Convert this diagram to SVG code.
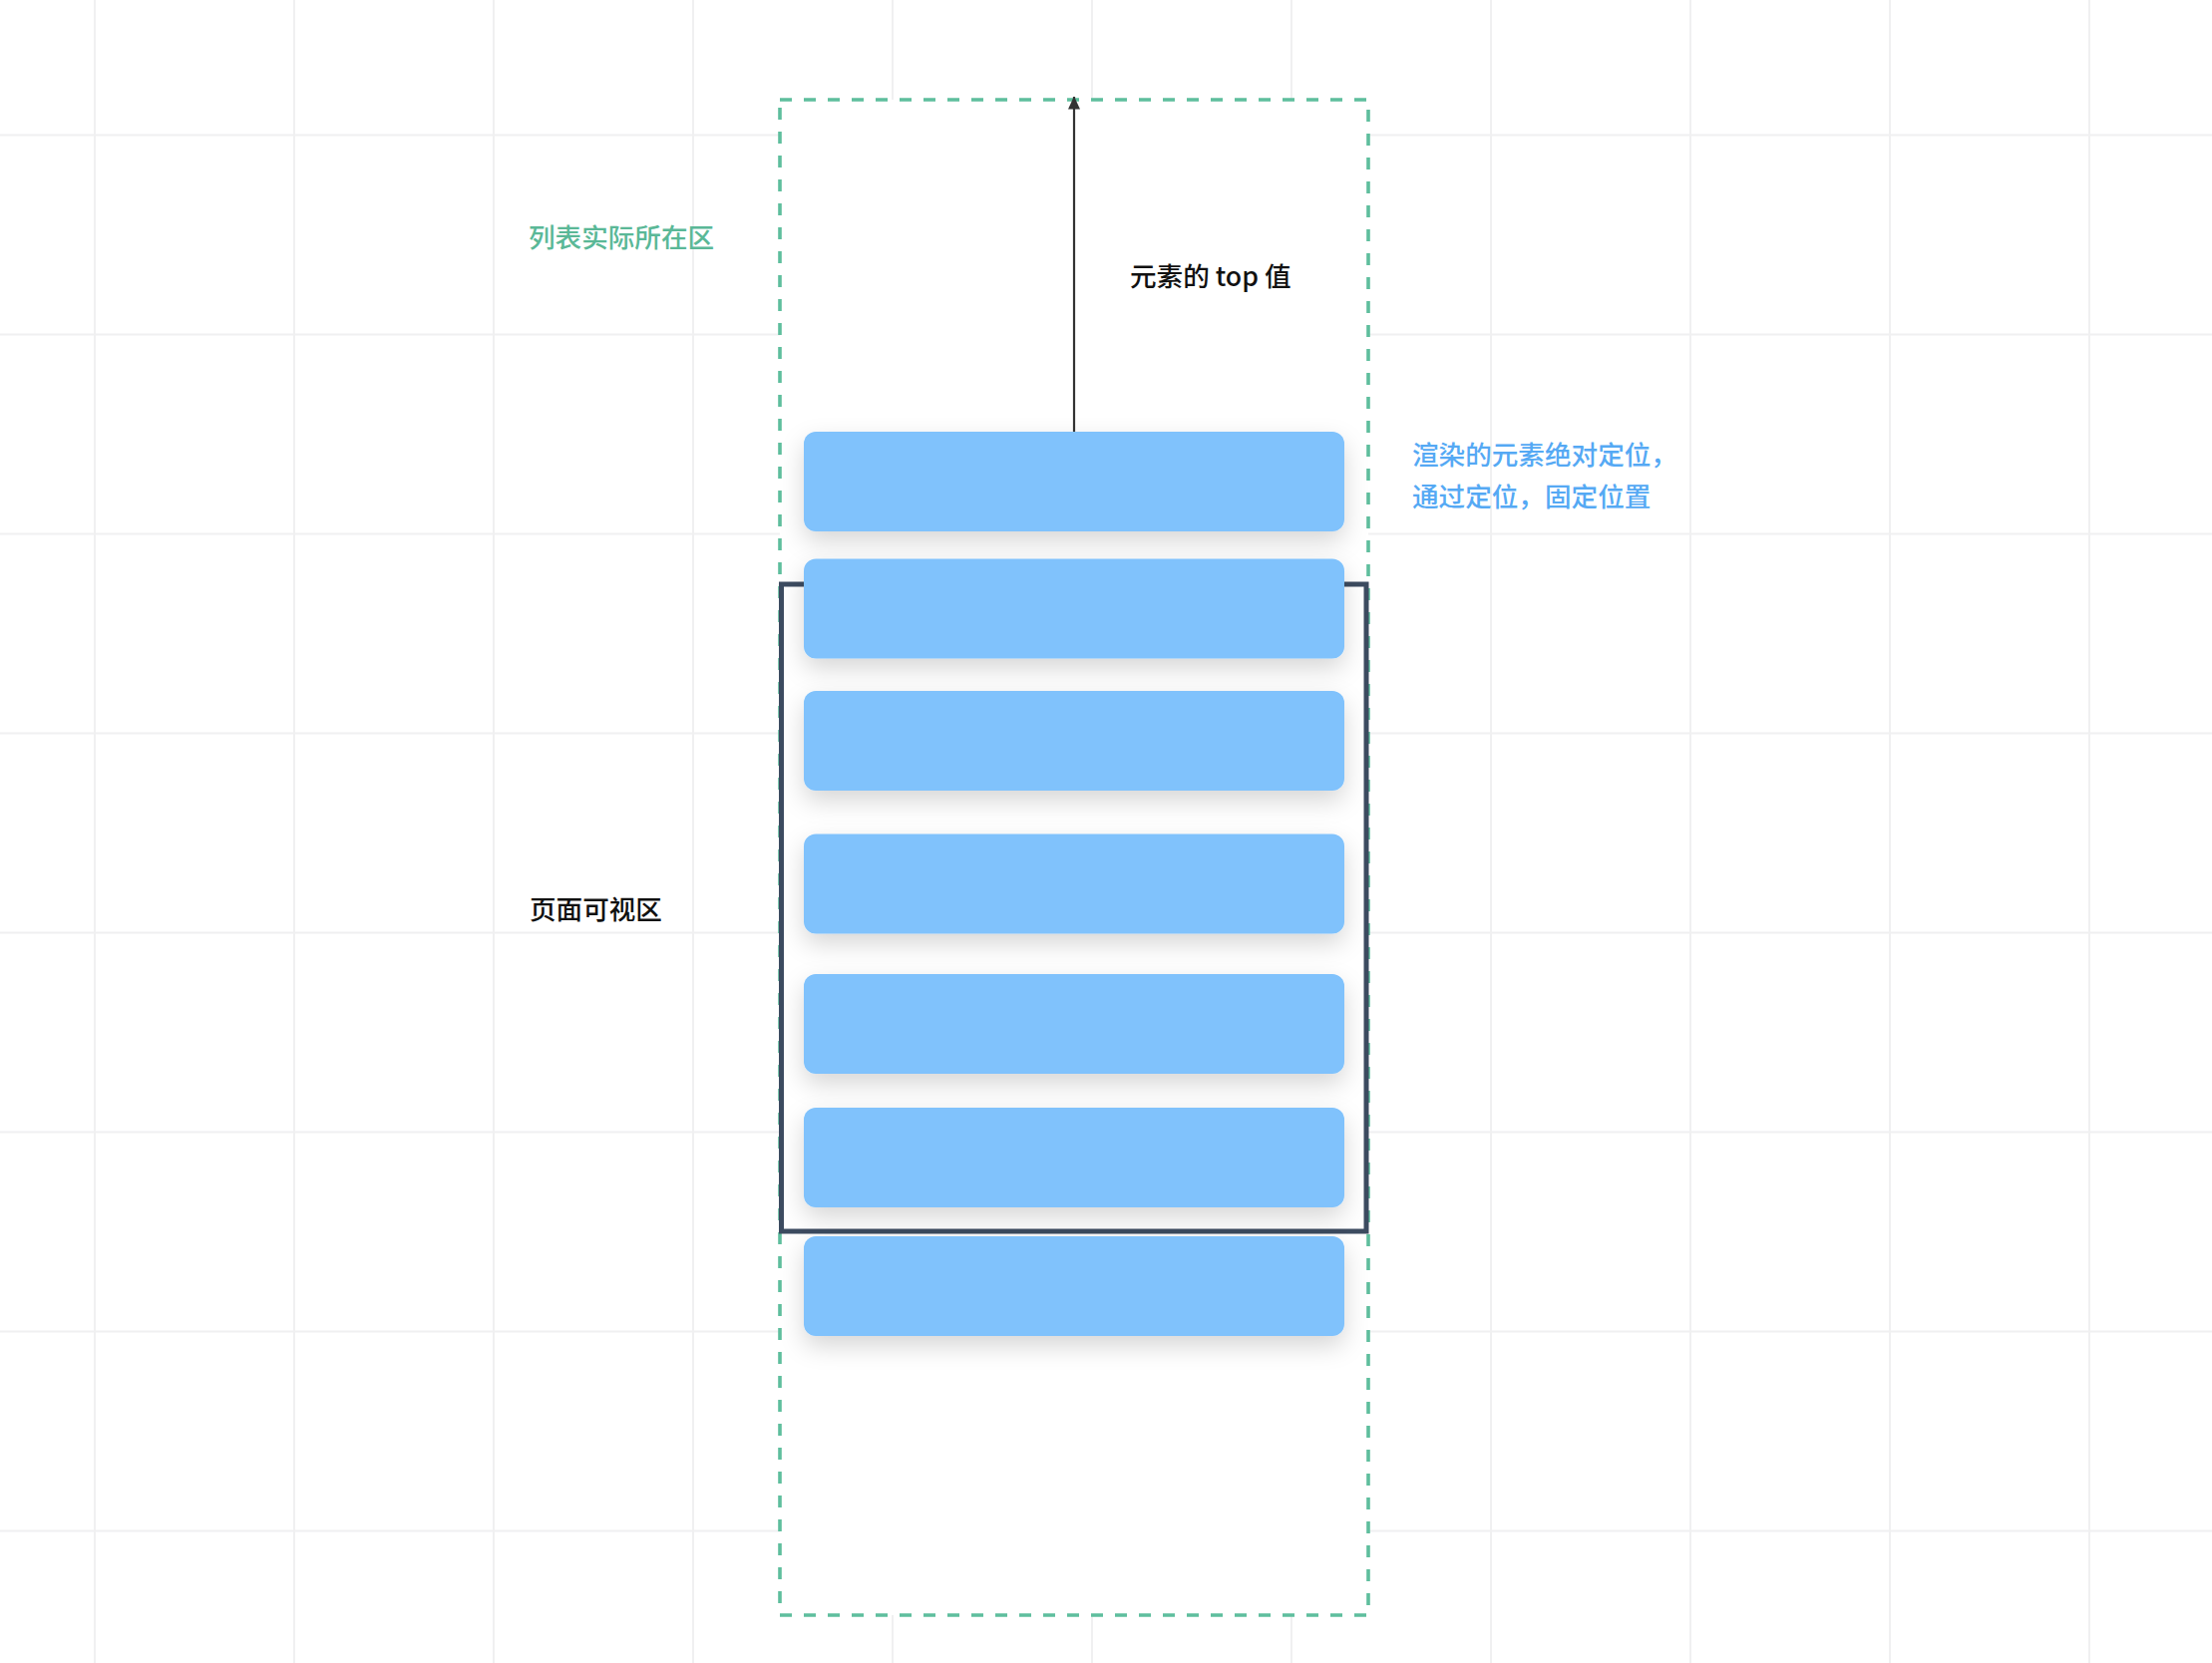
<svg xmlns="http://www.w3.org/2000/svg" width="2218" height="1668" viewBox="0 0 2218 1668">
<style>
.grid line{stroke:#f0f0f1;stroke-width:2}
.item{fill:#80c2fc;filter:url(#shadow)}
.t{font-family:"Noto Sans CJK SC","Liberation Sans",sans-serif;font-size:26.6px;font-weight:500}
</style>
<defs>
<filter id="shadow" x="-10%" y="-40%" width="120%" height="200%">
<feDropShadow dx="0" dy="10" stdDeviation="12" flood-color="#000" flood-opacity="0.16"/>
</filter>
<marker id="arr" markerWidth="13" markerHeight="12" refX="12.5" refY="6" orient="auto" markerUnits="userSpaceOnUse" viewBox="0 0 13 12">
<path d="M0,0 L13,6 L0,12 Z" fill="#333"/>
</marker>
</defs>
<rect width="2218" height="1668" fill="#ffffff"/>
<g class="grid">
<line x1="95" y1="0" x2="95" y2="1668"/>
<line x1="295" y1="0" x2="295" y2="1668"/>
<line x1="495" y1="0" x2="495" y2="1668"/>
<line x1="695" y1="0" x2="695" y2="1668"/>
<line x1="895" y1="0" x2="895" y2="1668"/>
<line x1="1095" y1="0" x2="1095" y2="1668"/>
<line x1="1295" y1="0" x2="1295" y2="1668"/>
<line x1="1495" y1="0" x2="1495" y2="1668"/>
<line x1="1695" y1="0" x2="1695" y2="1668"/>
<line x1="1895" y1="0" x2="1895" y2="1668"/>
<line x1="2095" y1="0" x2="2095" y2="1668"/>
<line x1="0" y1="135.5" x2="2218" y2="135.5"/>
<line x1="0" y1="335.5" x2="2218" y2="335.5"/>
<line x1="0" y1="535.5" x2="2218" y2="535.5"/>
<line x1="0" y1="735.5" x2="2218" y2="735.5"/>
<line x1="0" y1="935.5" x2="2218" y2="935.5"/>
<line x1="0" y1="1135.5" x2="2218" y2="1135.5"/>
<line x1="0" y1="1335.5" x2="2218" y2="1335.5"/>
<line x1="0" y1="1535.5" x2="2218" y2="1535.5"/>
</g>
<g id="list-area">
<rect x="782" y="100" width="590" height="1520" fill="#ffffff" stroke="#5ebe9d" stroke-width="3.6" stroke-dasharray="12 12"/>
<text class="t" x="530" y="247.5" fill="#5ab897">列表实际所在区</text>
</g>
<g id="viewport">
<rect x="783.5" y="586" width="586.5" height="649" fill="none" stroke="#3c4b60" stroke-width="5"/>
<text class="t" x="531" y="921.5" fill="#111">页面可视区</text>
</g>
<g id="item1"><rect class="item" x="806" y="433" width="542" height="100" rx="12"/></g>
<g id="item2"><rect class="item" x="806" y="560.5" width="542" height="100" rx="12"/></g>
<g id="item3"><rect class="item" x="806" y="693" width="542" height="100" rx="12"/></g>
<g id="item4"><rect class="item" x="806" y="836.5" width="542" height="100" rx="12"/></g>
<g id="item5"><rect class="item" x="806" y="977" width="542" height="100" rx="12"/></g>
<g id="item6"><rect class="item" x="806" y="1111" width="542" height="100" rx="12"/></g>
<g id="item7"><rect class="item" x="806" y="1240" width="542" height="100" rx="12"/></g>
<g id="connectors">
<line x1="1077" y1="433" x2="1077" y2="97" stroke="#333" stroke-width="2.2" marker-end="url(#arr)"/>
</g>
<g id="top-label">
<text class="t" x="1133" y="286.5" fill="#111">元素的 top 值</text>
</g>
<g id="render-note">
<text class="t" x="1416" y="466" fill="#55a9f4">渲染的元素绝对定位，</text>
<text class="t" x="1416" y="508" fill="#55a9f4">通过定位，固定位置</text>
</g>
</svg>
